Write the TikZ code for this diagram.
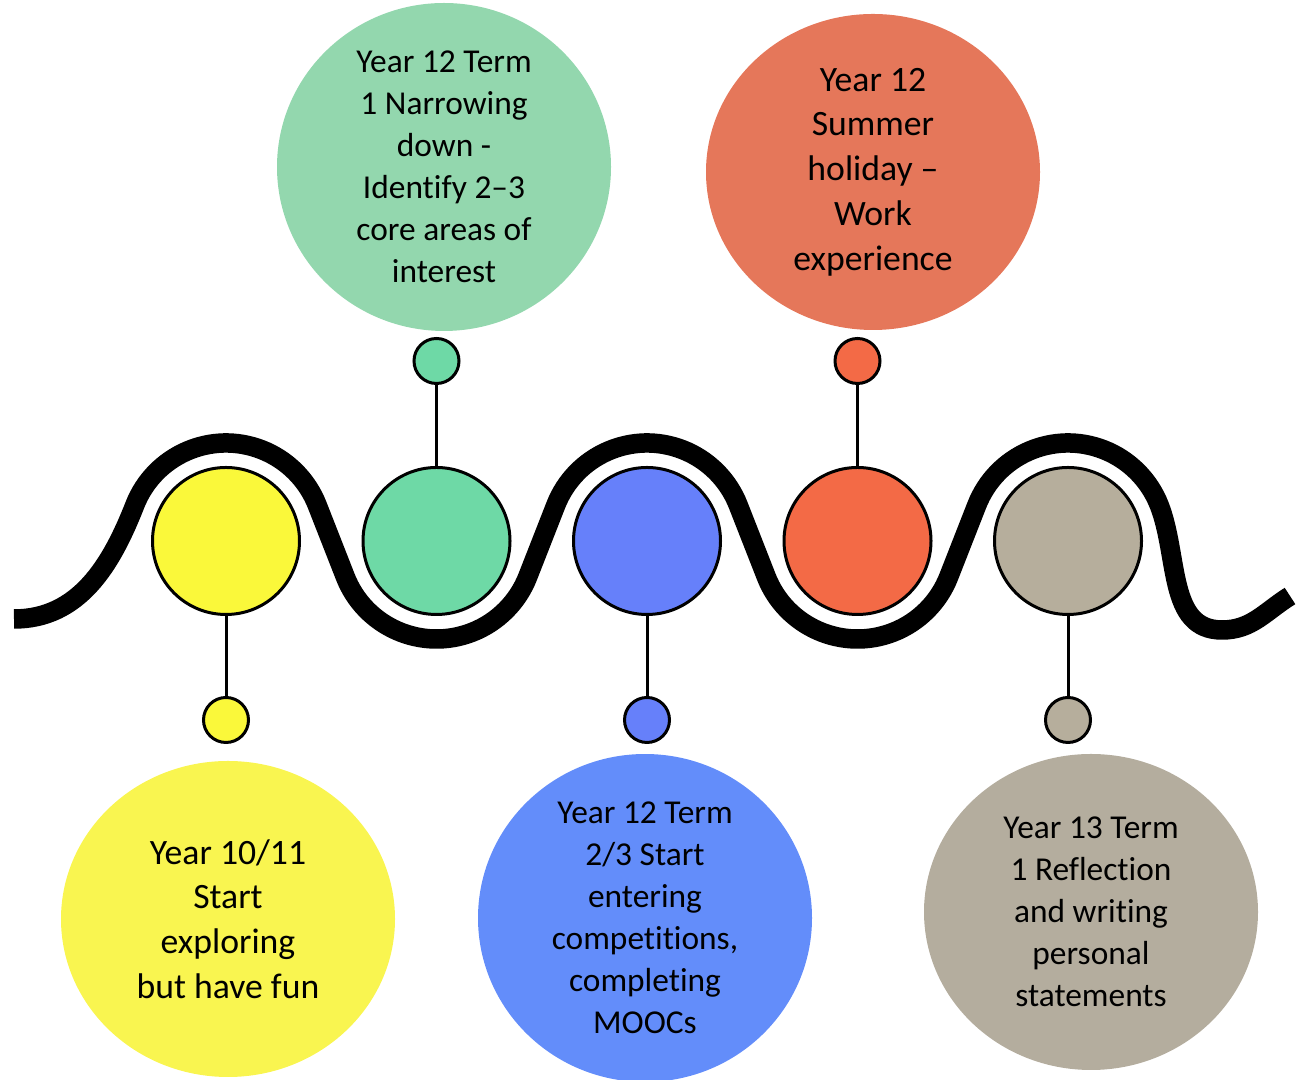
\documentclass[tikz,border=0pt]{standalone}
\usepackage{fontspec}
\setmainfont[Ligatures=NoCommon]{Carlito}
\usetikzlibrary{positioning}
\usetikzlibrary{calc}
\usetikzlibrary{shapes.geometric}
\definecolor{sunyellow}{RGB}{250,248,58}
\definecolor{mint}{RGB}{110,217,166}
\definecolor{cornblue}{RGB}{102,128,250}
\definecolor{coral}{RGB}{243,106,70}
\definecolor{stone}{RGB}{182,174,156}
\definecolor{mintpale}{RGB}{147,215,174}
\definecolor{corallight}{RGB}{229,119,90}
\definecolor{sunpale}{RGB}{249,245,80}
\definecolor{skyblue}{RGB}{99,141,250}
\definecolor{stonepale}{RGB}{180,173,158}
\tikzset{
        every node/.style={align=center},
        wave/.style={line width=3.9mm},
        stem/.style={line width=0.6mm},
        stage/.style={circle,draw,line width=0.6mm,minimum size=29.4mm,inner sep=0pt},
        dot/.style={circle,draw,line width=0.6mm,minimum size=9mm,inner sep=0pt},
        bubble/.style={ellipse,minimum width=66.8mm,minimum height=63.2mm,inner sep=0pt,
                font=\fontsize{19}{23.9}\selectfont},
        bigbubble/.style={bubble,font=\fontsize{20.3}{25.5}\selectfont},
        }

\begin{document}
\begin{tikzpicture}[x=0.2mm,y=0.2mm]
	\useasboundingbox (0,0) rectangle (1299,1080);
	\def\wr{98}
	\def\wa{21.4}

	% stages on the wave.....................
	\node [stage,fill=sunyellow] (w1) at (226,539) {};
	\node [stage,fill=mint] (w2) at (436.5,539) {};
	\node [stage,fill=cornblue] (w3) at (647,539) {};
	\node [stage,fill=coral] (w4) at (857.5,539) {};
	\node [stage,fill=stone] (w5) at (1068,539) {};

	% wave line..............................
	\draw [wave] (14,461) to[out=0,in=-111.4] ($(w1.center)+({180-\wa}:\wr)$)
		arc[start angle=180-\wa,end angle=\wa,radius=\wr]
		-- ($(w2.center)+({180+\wa}:\wr)$) arc[start angle=180+\wa,end angle=360-\wa,radius=\wr]
		-- ($(w3.center)+({180-\wa}:\wr)$) arc[start angle=180-\wa,end angle=\wa,radius=\wr]
		-- ($(w4.center)+({180+\wa}:\wr)$) arc[start angle=180+\wa,end angle=360-\wa,radius=\wr]
		-- ($(w5.center)+({180-\wa}:\wr)$) arc[start angle=180-\wa,end angle=\wa,radius=\wr]
		to[out=-68.6,in=180] (1222,450) to[out=0,in=212] (1290,484);

	% small dots.............................
	\node [dot,fill=sunyellow] (d1) at (226,360) {};
	\node [dot,fill=mint] (d2) at (436.5,719) {};
	\node [dot,fill=cornblue] (d3) at (647,360) {};
	\node [dot,fill=coral] (d4) at (857.5,719) {};
	\node [dot,fill=stone] (d5) at (1068,360) {};

	% stems..................................
	\draw [stem] (w1) -- (d1);
	\draw [stem] (w2) -- (d2);
	\draw [stem] (w3) -- (d3);
	\draw [stem] (w4) -- (d4);
	\draw [stem] (w5) -- (d5);

	% text bubbles...........................
	\node [bigbubble,fill=sunpale] (t1) at (228,161) {Year 10/11\\Start\\exploring\\but have fun};
	\node [bubble,fill=mintpale] (t2) at (444,913) {Year 12 Term\\1 Narrowing\\down -\\Identify 2–3\\core areas of\\interest};
	\node [bubble,fill=skyblue] (t3) at (645,162) {Year 12 Term\\2/3 Start\\entering\\competitions,\\completing\\MOOCs};
	\node [bigbubble,fill=corallight] (t4) at (873,908) {Year 12\\Summer\\holiday –\\Work\\experience};
	\node [bubble,fill=stonepale] (t5) at (1091,168) {Year 13 Term\\1 Reflection\\and writing\\personal\\statements};
\end{tikzpicture}
\end{document}
